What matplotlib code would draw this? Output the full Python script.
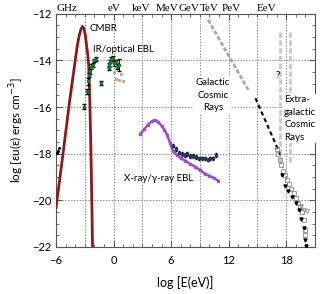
import numpy as np
import matplotlib
matplotlib.use("Agg")
import matplotlib.pyplot as plt
from matplotlib.ticker import MultipleLocator

plt.rcParams['font.family'] = ['Lato', 'DejaVu Sans']

# CMB blackbody curve
cmb_x = [-6.0, -5.27, -4.57, -4.0, -3.8, -3.6, -3.4, -3.24, -3.1, -2.95,
         -2.82, -2.68, -2.6, -2.54, -2.47, -2.4, -2.33, -2.26, -2.2]
cmb_y = [-20.3, -17.98, -15.69, -14.0, -13.4, -12.95, -12.65, -12.54, -12.62, -12.92,
         -13.35, -13.8, -14.2, -14.9, -15.9, -17.2, -18.7, -20.3, -22.0]

# radio background points
radio_x = [-5.95, -5.8, -5.65]
radio_y = [-17.97, -17.88, -17.75]

# IR/optical EBL
ir_x = [-3.06, -2.82, -2.72, -2.61, -2.47, -2.36, -2.19, -2.01, -1.84, -1.31,
        -0.44, -0.35, -0.26, -0.1, 0.08, 0.2, 0.32, 0.53, -0.44]
ir_y = [-15.98, -15.33, -14.9, -14.62, -14.47, -14.26, -14.19, -14.0, -13.94, -14.97,
        -14.19, -14.05, -13.94, -13.9, -14.12, -14.05, -14.26, -14.19, -14.33]
ir_err = [0.1, 0.12, 0.15, 0.1, 0.1, 0.1, 0.08, 0.08, 0.08, 0.08,
          0.1, 0.08, 0.08, 0.08, 0.1, 0.08, 0.1, 0.25, 0.1]
opt_x = [0.08, 0.28, 0.53, 0.75, 0.95]
opt_y = [-14.48, -14.8, -14.83, -14.6, -14.9]

# X-ray / gamma-ray EBL
xr_x = [2.8, 3.2, 3.6, 4.0, 4.3, 4.6, 5.0, 5.3, 5.6, 5.9, 6.2, 6.6,
        7.0, 7.5, 8.0, 8.5, 9.0, 9.5, 10.0, 10.5, 10.9]
xr_y = [-17.15, -16.95, -16.75, -16.6, -16.56, -16.62, -16.8, -16.98, -17.2, -17.55, -17.9, -18.05,
        -18.2, -18.3, -18.45, -18.55, -18.7, -18.85, -18.95, -19.05, -19.15]

gam_x = [6.2, 6.5, 6.8, 7.1, 7.4, 7.7, 8.0, 8.3, 8.6, 8.9, 9.2, 9.5, 9.8, 10.1, 10.4, 10.7]
gam_y = [-17.65, -17.8, -17.95, -18.0, -18.05, -18.0, -18.1, -18.1, -18.15, -18.2,
         -18.2, -18.2, -18.25, -18.2, -18.2, -18.05]

# Galactic cosmic rays
gcr_x = [9.86, 14.05]
gcr_y = [-12.26, -15.26]

# knee to ankle
knee_x = [14.8, 17.4]
knee_y = [-15.62, -18.05]

# extragalactic cosmic rays
egsq_x = [17.0, 17.2, 17.35, 17.5, 17.7, 17.9, 18.07, 18.3, 18.5, 18.77, 19.0, 19.2, 19.47, 19.65, 19.82, 19.99, 20.0]
egsq_y = [-17.78, -18.0, -18.28, -18.5, -18.75, -18.9, -19.12, -19.3, -19.5, -19.7, -19.9, -20.1, -20.27, -20.5, -20.84, -21.27, -21.5]
egtr_x = [17.6, 17.9, 18.2, 18.6, 19.0, 19.3, 19.6, 19.82, 19.99, 20.1]
egtr_y = [-18.9, -19.4, -19.6, -19.84, -20.1, -20.41, -20.8, -21.2, -21.7, -21.96]
egop_x = [19.6, 19.9, 20.17]
egop_y = [-20.25, -20.4, -20.44]

egv_x = [17.4, 18.4]
egv_top = -12.8
egv_bot = -18.4

top_labels = ['GHz', 'eV', 'keV', 'MeV', 'GeV', 'TeV', 'PeV', 'EeV']
top_pos = [-4.9, 0.08, 2.91, 5.55, 7.85, 9.95, 12.24, 15.96]

fig = plt.figure(figsize=(3.26, 2.94), dpi=100)
ax = fig.add_axes([0.172, 0.160, 0.794, 0.793])

for gx in [-3, 0, 3, 6, 9, 12, 15, 18]:
    ax.axvline(gx, color='#8a8a8a', lw=0.7, ls=(0, (1.5, 1.5)), zorder=0)
for gy in [-14, -16, -18, -20]:
    ax.axhline(gy, color='#8a8a8a', lw=0.7, ls=(0, (1.5, 1.5)), zorder=0)

ax.plot(cmb_x, cmb_y, color='#8b1a1a', lw=2.0, zorder=3)
ax.plot(radio_x, radio_y, 'o', color='black', ms=1.2, zorder=3)

ax.errorbar(ir_x, ir_y, yerr=ir_err, fmt='s', color='#2e9e4f', ms=2, mec='#1f6e35',
            ecolor='black', elinewidth=0.7, capsize=1.2, zorder=4)
ax.plot(opt_x, opt_y, 's', color='#c8a890', ms=1.2, zorder=3)

ax.plot(xr_x, xr_y, '-s', color='#9b4fc8', lw=1.8, ms=2, zorder=3)
ax.errorbar(gam_x, gam_y, yerr=0.08, fmt='s', color='#1f3060', ms=2, mfc='#d06060',
            ecolor='black', elinewidth=0.6, capsize=1.0, zorder=4)

ax.plot(gcr_x, gcr_y, color='#a8a8a8', lw=2.0, ls=(0, (1.5, 0.8)), zorder=3)
ax.plot(knee_x, knee_y, color='black', lw=1.5, ls=(0, (2, 1.5)), zorder=3)
for vx in egv_x:
    ax.plot([vx, vx], [egv_top, egv_bot], color='#c8c8c8', lw=2.0, ls=(0, (2, 0.8)), zorder=2)
ax.plot(egsq_x, egsq_y, 's', mfc='none', mec='#8a8a8a', ms=2.5, mew=0.6, zorder=4)
ax.plot(egtr_x, egtr_y, 'v', color='black', ms=2.2, zorder=4)
ax.plot(egop_x, egop_y, 'v', mfc='none', mec='#8a8a8a', ms=2.8, mew=0.6, zorder=4)

fs = 7
ax.text(-2.54, -12.64, 'CMBR', fontsize=fs, va='center', ha='left')
ax.text(-2.2, -13.55, 'IR/optical EBL', fontsize=fs, va='center', ha='left')
ax.text(1.13, -19.07, 'X-ray/γ-ray EBL', fontsize=fs, va='center', ha='left')
ax.text(10.35, -15.5, 'Galactic\nCosmic\nRays', fontsize=fs, va='center', ha='center',
        linespacing=1.5, bbox=dict(facecolor='white', edgecolor='none', pad=1), zorder=5)
ax.text(17.8, -16.5, 'Extra-\ngalactic\nCosmic\nRays', fontsize=fs, va='center', ha='left',
        linespacing=1.5, bbox=dict(facecolor='white', edgecolor='none', pad=1), zorder=5)
ax.text(17.15, -14.66, '?', fontsize=fs, va='center', ha='center')

for lab, pos in zip(top_labels, top_pos):
    ax.text(pos, 1.01, lab, transform=ax.get_xaxis_transform(), ha='center', va='baseline',
            fontsize=8, family='Liberation Serif')

ax.set_xlim(-6, 21)
ax.set_ylim(-22, -12)
ax.xaxis.set_major_locator(MultipleLocator(6))
ax.xaxis.set_minor_locator(MultipleLocator(1))
ax.yaxis.set_major_locator(MultipleLocator(2))
ax.yaxis.set_minor_locator(MultipleLocator(0.5))
ax.tick_params(which='both', direction='in', top=True, right=True, labelsize=8, color='#555555')
ax.tick_params(which='major', length=4)
ax.tick_params(which='minor', length=2.5)
ax.tick_params(axis='x', pad=6)
for sp in ax.spines.values():
    sp.set_color('#555555')

ax.set_xlabel('log [E(eV)]', fontsize=9, labelpad=7)
ax.set_ylabel('log [εu(ε) ergs cm$^{-3}$]', fontsize=8.5)

fig.savefig('out.png', dpi=100)
